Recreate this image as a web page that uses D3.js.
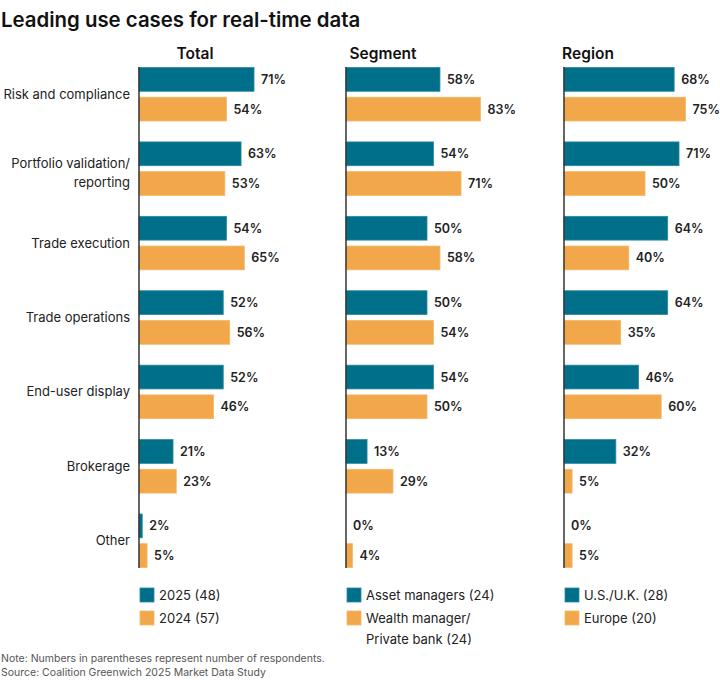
<!DOCTYPE html>
<html>
<head>
  <meta charset="utf-8">
  <title>Leading use cases for real-time data</title>
  <style>
    body { margin: 0; background: #fff; }
    svg { display: block; font-family: Inter, "Noto Sans", sans-serif; }
    .title { font-size: 20.4px; font-weight: 600; fill: #111; }
    .panel-title { font-size: 15.5px; font-weight: 600; fill: #111; text-anchor: middle; }
    .cat { font-size: 13px; fill: #222; text-anchor: end; }
    .val { font-size: 12.5px; font-weight: 600; fill: #222; }
    .legend { font-size: 13px; fill: #222; }
    .note { font-size: 10.5px; fill: #555; }
  </style>
  <script src="https://cdnjs.cloudflare.com/ajax/libs/d3/7.8.5/d3.min.js"></script>
</head>
<body>
<svg id="chart" width="720" height="689"></svg>
<script>
  var categories = ["Risk and compliance", "Portfolio validation/\nreporting", "Trade execution",
                    "Trade operations", "End-user display", "Brokerage", "Other"];

  var total2025 = [71, 63, 54, 52, 52, 21, 2];
  var total2024 = [54, 53, 65, 56, 46, 23, 5];
  var assetManagers = [58, 54, 50, 50, 54, 13, 0];
  var wealthManagers = [83, 71, 58, 54, 50, 29, 4];
  var usUk = [68, 71, 64, 64, 46, 32, 0];
  var europe = [75, 50, 40, 35, 60, 5, 5];

  var panels = [
    { title: "Total", x0: 139, titleX: 195, series: [total2025, total2024],
      legend: ["2025 (48)", "2024 (57)"] },
    { title: "Segment", x0: 346, titleX: 383, series: [assetManagers, wealthManagers],
      legend: ["Asset managers (24)", "Wealth manager/\nPrivate bank (24)"] },
    { title: "Region", x0: 564, titleX: 588, series: [usUk, europe],
      legend: ["U.S./U.K. (28)", "Europe (20)"] }
  ];

  var colors = ["#006f89", "#f1a74a"];
  var strokes = ["#2a8ba3", "#f5b866"];

  var svg = d3.select("#chart");

  svg.append("text").attr("class", "title").attr("x", 1).attr("y", 27)
     .text("Leading use cases for real-time data");

  var x = d3.scaleLinear().domain([0, 100]).range([0, 162]);

  var y = d3.scaleBand().domain(d3.range(categories.length))
            .range([67.5, 567.5]).paddingInner(0.281).paddingOuter(0);

  var ySub = d3.scaleBand().domain([0, 1]).range([0, y.bandwidth()]).paddingInner(0.2);

  // category labels (two-line label sits a bit low, as in the original)
  categories.forEach(function(c, i) {
    var lines = c.split("\n");
    var cy = y(i) + y.bandwidth() / 2;
    var t = svg.append("text").attr("class", "cat").attr("x", 130)
               .attr("y", lines.length > 1 ? cy - 5 : cy);
    lines.forEach(function(l, k) {
      t.append("tspan").attr("x", 130).attr("dy", k === 0 ? "0.35em" : 19).text(l);
    });
  });

  panels.forEach(function(p) {
    var g = svg.append("g").attr("transform", "translate(" + p.x0 + ",0)");

    svg.append("text").attr("class", "panel-title").attr("x", p.titleX).attr("y", 59).text(p.title);

    p.series.forEach(function(s, si) {
      g.selectAll(".bar" + si).data(s).enter().append("rect")
        .attr("x", 0)
        .attr("y", function(d, i) { return y(i) + ySub(si); })
        .attr("width", function(d) { return x(d); })
        .attr("height", ySub.bandwidth())
        .attr("fill", colors[si])
        .attr("stroke", function(d) { return d > 0 ? strokes[si] : "none"; })
        .attr("stroke-width", 0.8);

      g.selectAll(".val" + si).data(s).enter().append("text")
        .attr("class", "val")
        .attr("x", function(d) { return x(d) + 7; })
        .attr("y", function(d, i) { return y(i) + ySub(si) + ySub.bandwidth() / 2; })
        .attr("dy", "0.36em")
        .text(function(d) { return d + "%"; });
    });

    g.append("line").attr("x1", 0).attr("x2", 0).attr("y1", 67).attr("y2", 568)
      .attr("stroke", "#333").attr("stroke-width", 1.5);

    // legend
    var lg = svg.append("g").attr("transform", "translate(" + (p.x0 + 1) + ",588)");
    p.legend.forEach(function(txt, li) {
      var ly = li * 23;
      lg.append("rect").attr("x", 0).attr("y", ly).attr("width", 14).attr("height", 14)
        .attr("fill", colors[li]).attr("stroke", strokes[li]).attr("stroke-width", 0.8);
      var t = lg.append("text").attr("class", "legend").attr("x", 19).attr("y", ly + 7);
      txt.split("\n").forEach(function(l, k) {
        t.append("tspan").attr("x", 19).attr("dy", k === 0 ? "0.36em" : 21).text(l);
      });
    });
  });

  svg.append("text").attr("class", "note").attr("x", 1).attr("y", 662)
     .text("Note: Numbers in parentheses represent number of respondents.");
  svg.append("text").attr("class", "note").attr("x", 1).attr("y", 676)
     .text("Source: Coalition Greenwich 2025 Market Data Study");
</script>
</body>
</html>
